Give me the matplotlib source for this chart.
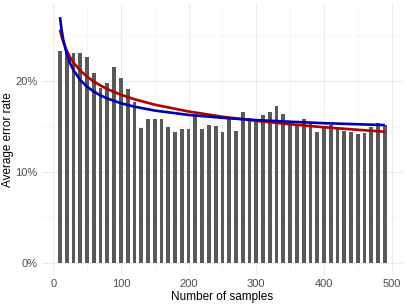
import matplotlib
matplotlib.use('Agg')
import matplotlib.pyplot as plt
from matplotlib.ticker import FuncFormatter, MultipleLocator

# Average error rate (%) per sample count
samples = list(range(10, 500, 10))
error_rate = [23.3, 23.1, 23.1, 23.1, 22.7, 20.9, 19.3, 19.8, 21.6, 20.4,
              19.2, 17.7, 14.9, 15.9, 15.9, 15.9, 15.0, 14.4, 14.7, 14.8,
              16.2, 14.7, 15.2, 15.1, 14.4, 15.8, 14.5, 16.6, 16.0, 15.8,
              16.3, 16.6, 17.3, 16.4, 15.5, 15.35, 15.8, 15.35, 14.4, 15.0,
              15.2, 14.7, 14.5, 14.4, 14.2, 14.3, 15.0, 15.4, 15.2]

# fitted curves, values
fit_x = [10, 12, 15, 20, 25, 30, 40, 50, 60, 70, 80, 100, 120, 150,
         200, 250, 300, 350, 400, 450, 490]
fit_red = [25.70, 25.07, 24.32, 23.36, 22.65, 22.07, 21.19, 20.52, 19.98,
           19.54, 19.15, 18.53, 18.03, 17.43, 16.68, 16.10, 15.65, 15.27,
           14.94, 14.66, 14.45]
fit_blue = [27.08, 25.87, 24.53, 23.02, 21.98, 21.22, 20.14, 19.41, 18.87,
            18.45, 18.11, 17.59, 17.21, 16.78, 16.30, 15.98, 15.73, 15.55,
            15.39, 15.27, 15.18]

plt.rcParams['font.family'] = ['Liberation Sans', 'DejaVu Sans']

fig = plt.figure(figsize=(4.07, 3.05), dpi=100)
ax = fig.add_axes([0.102, 0.098, 0.889, 0.888])

ax.bar(samples, error_rate, width=5.6, color='#595959', zorder=2)
ax.plot(fit_x, fit_red, color='#B00000', lw=1.9, zorder=3,
        solid_capstyle='butt')
ax.plot(fit_x, fit_blue, color='#0000B0', lw=1.9, zorder=4,
        solid_capstyle='butt')

ax.set_xlim(-17.3, 517.3)
ax.set_ylim(-1.36, 28.5)
ax.xaxis.set_major_locator(MultipleLocator(100))
ax.xaxis.set_minor_locator(MultipleLocator(50))
ax.yaxis.set_major_locator(MultipleLocator(10))
ax.yaxis.set_minor_locator(MultipleLocator(5))
ax.yaxis.set_major_formatter(FuncFormatter(lambda v, p: f'{v:.0f}%'))

ax.grid(which='major', color='#EBEBEB', lw=0.8, zorder=0)
ax.grid(which='minor', color='#F3F3F3', lw=0.5, zorder=0)
ax.set_axisbelow(True)
for s in ax.spines.values():
    s.set_visible(False)
ax.tick_params(which='both', length=0, labelsize=8, labelcolor='#4D4D4D',
               pad=3)

ax.set_xlabel('Number of samples', fontsize=8.5, labelpad=1)
ax.set_ylabel('Average error rate', fontsize=8.5, va='center')
ax.yaxis.set_label_coords(-0.092, 0.5)

fig.savefig('out.png', dpi=100)
